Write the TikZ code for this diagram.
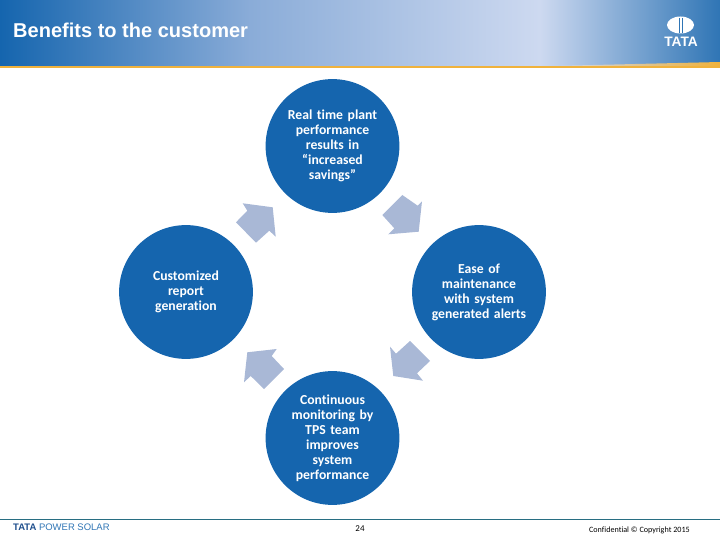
\documentclass[tikz,border=0pt]{standalone}
\usepackage{fontspec}
\setmainfont{Carlito}[Ligatures={TeX,NoCommon}]
\newfontfamily\headfont{Liberation Sans}
\usetikzlibrary{positioning, calc}
\definecolor{tatablue}{RGB}{21, 101, 174}
\definecolor{tatanavy}{RGB}{30, 78, 140}
\definecolor{arrowblue}{RGB}{169, 184, 214}
\definecolor{headmid}{RGB}{138, 172, 216}
\definecolor{headlight}{RGB}{205, 217, 240}
\definecolor{headend}{RGB}{47, 117, 181}
\definecolor{tataorange}{RGB}{240, 178, 60}
\definecolor{footline}{RGB}{40, 110, 130}
\tikzset{
    bubble/.style={circle, fill=tatablue, minimum size=134*0.0333cm, inner sep=0pt, text width=3.2cm, align=center, font=\fontsize{13}{14.2}\selectfont\bfseries, text=white},
    blockarrow/.style={fill=arrowblue}
}
\begin{document}
\begin{tikzpicture}[x=0.0333333cm, y=-0.0333333cm]
    \useasboundingbox (0,0) rectangle (720,540);
    % Header band
    \shade[left color=tatablue, right color=headmid] (0,0) rectangle (250,66);
    \shade[left color=headmid, right color=headlight] (250,0) rectangle (540,66);
    \shade[left color=headlight, right color=headend] (540,0) rectangle (720,66);
    \fill[tataorange] (0,66) rectangle (720,68);
    \shade[left color=headlight, right color=tataorange] (551,66) -- (720,62) -- (720,66) -- cycle;
    \node[font=\headfont\bfseries\fontsize{19}{22}\selectfont, text=white, anchor=west, inner sep=0pt] (title) at (13,30) {Benefits to the customer};
    % Logo
    \fill[white] (680.5,25) ellipse (13.5 and 8.5);
    \draw[headend, line width=0.5pt] (679,18) -- (679,33);
    \draw[headend, line width=0.5pt] (682.5,18) -- (682.5,33);
    \node[font=\headfont\bfseries\fontsize{13}{14}\selectfont, text=white, inner sep=0pt] (logo) at (681,42) {TATA};
    % Circles
    \node[bubble] (savings) at (332.5,146) {Real time plant\\performance\\results in\\``increased\\savings''};
    \node[bubble] (alerts) at (479,292) {Ease of\\maintenance\\with system\\generated alerts};
    \node[bubble] (monitoring) at (332.5,438) {Continuous\\monitoring by\\TPS team\\improves\\system\\performance};
    \node[bubble] (report) at (186,292) {Customized\\report\\generation};
    % Arrows
    \fill[blockarrow] (272.7,207.3) -- (275.7,236.7) -- (269.3,230.7) -- (256,242.7) -- (236,222.3) -- (247.3,210.7) -- (242.7,203.3) -- cycle;
    \fill[blockarrow] (418.7,231.7) -- (422,201.3) -- (417.7,205.7) -- (402.3,195) -- (382.3,215) -- (394.3,228.3) -- (388.3,234.3) -- cycle;
    \fill[blockarrow] (393.3,376) -- (390,346.7) -- (396,353.7) -- (410,341) -- (430,361) -- (417,373.3) -- (423,380.7) -- cycle;
    \fill[blockarrow] (247.3,352.3) -- (276.7,349) -- (271.7,356) -- (284,369) -- (264,389) -- (250.7,376) -- (244,382.3) -- cycle;
    % Footer
    \draw[footline, line width=0.8pt] (0,519) -- (720,519);
    \node[font=\headfont\fontsize{9}{10}\selectfont, text=headend, anchor=west, inner sep=0pt] (brand) at (13,527.5) {\textcolor{tatanavy}{\bfseries TATA} POWER SOLAR};
    \node[font=\fontsize{8.5}{9}\selectfont, inner sep=0pt] (page) at (360,529) {24};
    \node[font=\fontsize{7.7}{8}\selectfont, anchor=east, inner sep=0pt] (copy) at (690,530) {Confidential © Copyright 2015};
\end{tikzpicture}
\end{document}
